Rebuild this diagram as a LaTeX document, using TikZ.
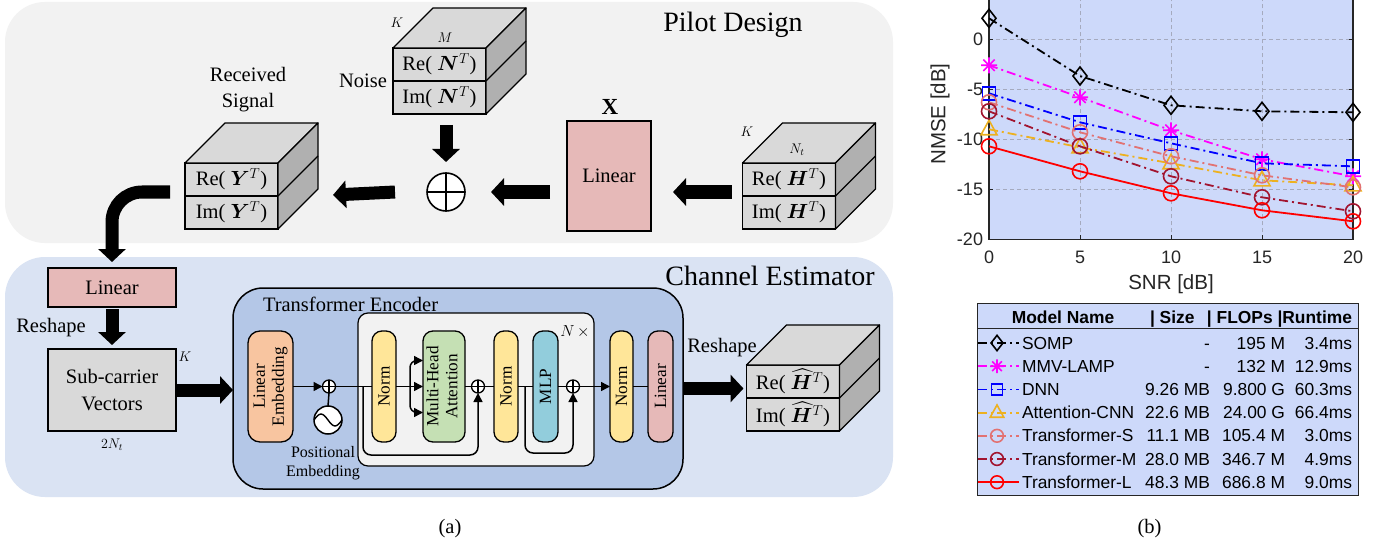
\RequirePackage{fix-cm}
\documentclass[tikz,border=0pt]{standalone}
\usepackage{amsmath}
\usepackage{bm}
\usepackage{fontspec}
\setmainfont{Liberation Serif}
\newfontfamily\arialf{Liberation Sans}
\usepackage{graphicx}
\usetikzlibrary{arrows.meta,calc,shapes.geometric}

\definecolor{panelgray}{HTML}{F2F2F2}
\definecolor{panelblue}{HTML}{DAE3F3}
\definecolor{tebg}{HTML}{B4C7E7}
\definecolor{linpink}{HTML}{E6B9B8}
\definecolor{cubefront}{HTML}{D9D9D9}
\definecolor{cubeside}{HTML}{B0B0B0}
\definecolor{embor}{HTML}{F8C5A0}
\definecolor{normy}{HTML}{FFE699}
\definecolor{mhag}{HTML}{C5E0B4}
\definecolor{mlpc}{HTML}{92CDDC}
\definecolor{plotbg}{RGB}{205,217,250}
\definecolor{gridc}{RGB}{165,170,190}
\definecolor{axc}{RGB}{38,38,38}
\definecolor{cmag}{RGB}{255,0,255}
\definecolor{cblue}{RGB}{0,0,255}
\definecolor{corange}{RGB}{237,177,32}
\definecolor{csalmon}{RGB}{226,114,114}
\definecolor{cdred}{RGB}{162,20,47}
\definecolor{cred}{RGB}{255,0,0}

\newcommand\fsN{\fontsize{20.5}{24}\selectfont}
\newcommand\fsT{\fontsize{28}{31}\selectfont}
\newcommand\fsS{\fontsize{16}{19}\selectfont}
\newcommand\fsX{\fontsize{14}{16}\selectfont}
\newcommand\fsB{\fontsize{17.2}{19}\selectfont}
\newcommand\fsTick{\arialf\fontsize{18}{20}\selectfont}
\newcommand\fsAx{\arialf\fontsize{20.5}{23}\selectfont}
\newcommand\fsLeg{\arialf\fontsize{17.4}{20}\selectfont}

\newcommand\cubefaces[2]{%
  \draw[topface] (#1.north west) -- ++(40,-40) -- ++(93,0) -- (#1.north east) -- cycle;
  \draw[sideface] (#1.north east) -- ++(40,-40) -- ++(0,66) -- (#2.south east) -- cycle;
  \draw[line width=1.3pt] (#1.south east) -- ++(40,-40);
}

\tikzset{
  every node/.style={inner sep=0pt, outer sep=0pt},
  lbl/.style={font=\fsN},
  ttl/.style={font=\fsT},
  dimlbl/.style={font=\fsX},
  face/.style={draw, line width=1.3pt, fill=cubefront, minimum width=93pt, minimum height=33pt, font=\fsN},
  topface/.style={draw, line width=1.3pt, fill=cubefront, line join=round},
  sideface/.style={draw, line width=1.3pt, fill=cubeside, line join=round},
  fat/.style={line width=13pt, -{Triangle[length=13pt,width=27pt]}},
  bigsum/.style={circle, draw, line width=1.6pt, fill=white, minimum size=38pt,
    path picture={\draw[line width=1.6pt] (path picture bounding box.north) -- (path picture bounding box.south)
      (path picture bounding box.west) -- (path picture bounding box.east);}},
  sumnode/.style={circle, draw, line width=1.3pt, fill=white, minimum size=13pt,
    path picture={\draw[line width=1.3pt] (path picture bounding box.north) -- (path picture bounding box.south)
      (path picture bounding box.west) -- (path picture bounding box.east);}},
  blk/.style={draw, line width=1.3pt, rounded corners=10pt, minimum height=111pt, font=\fsB},
  flow/.style={line width=1.5pt},
  flowarr/.style={line width=1.5pt, -{Triangle[length=9pt,width=9pt]}},
  gridline/.style={gridc, line width=0.8pt, dash pattern=on 4pt off 3pt},
  dashdotm/.style={dash pattern=on 9pt off 4pt on 2pt off 4pt},
  sblack/.style={black, line width=1.8pt, dashdotm},
  smag/.style={cmag, line width=1.8pt, dashdotm},
  sblue/.style={cblue, line width=1.8pt, dashdotm},
  sorange/.style={corange, line width=1.8pt, dashdotm},
  ssalmon/.style={csalmon, line width=1.8pt, dashdotm},
  sdred/.style={cdred, line width=1.8pt, dashdotm},
  sred/.style={cred, line width=1.8pt, solid},
  mdia/.pic={\draw[solid, line width=1.6pt] (0,9pt) -- (7pt,0) -- (0,-9pt) -- (-7pt,0) -- cycle;},
  mcirc/.pic={\draw[solid, line width=1.6pt] (0,0) circle[radius=7.5pt];},
  msq/.pic={\draw[solid, line width=1.6pt] (-6.5pt,-6.5pt) rectangle (6.5pt,6.5pt);},
  mtri/.pic={\draw[solid, line width=1.6pt] (0,9pt) -- (8pt,-5.5pt) -- (-8pt,-5.5pt) -- cycle;},
  mast/.pic={\draw[solid, line width=1.6pt] (-8pt,0) -- (8pt,0) (0,-8pt) -- (0,8pt)
     (-5.7pt,-5.7pt) -- (5.7pt,5.7pt) (-5.7pt,5.7pt) -- (5.7pt,-5.7pt);},
}

\begin{document}
\begin{tikzpicture}[x=1pt, y=-1pt]
\useasboundingbox (0,0) rectangle (1388,540);
\clip (0,0) rectangle (1388,540);
\fill[white] (0,0) rectangle (1388,540);

% ---------- panels ----------
\fill[panelgray, rounded corners=40pt] (5,2) rectangle (893,243);
\fill[panelblue, rounded corners=40pt] (5,257) rectangle (893,497);
\node[ttl, anchor=base] (pilot) at (733,32) {Pilot Design};
\node[ttl, anchor=base] (chest) at (770,285) {Channel Estimator};

% ---------- pilot design ----------
\node[face] (nre) at (439.5,64.5) {Re( $\bm{N}^T$)};
\node[face] (nim) at (439.5,97.5) {Im( $\bm{N}^T$)};
\cubefaces{nre}{nim}
\node[dimlbl] (nk) at (397,23) {$K$};
\node[dimlbl] (nm) at (445,38) {$M$};
\node[lbl, anchor=east] (noise) at ([xshift=-6pt]nre.south west) {Noise};

\node[face] (yre) at (231.5,179.5) {Re( $\bm{Y}^T$)};
\node[face] (yim) at (231.5,212.5) {Im( $\bm{Y}^T$)};
\cubefaces{yre}{yim}
\node[lbl, align=center, font=\fontsize{20.5}{26}\selectfont] (recv) at (248,90) {Received\\Signal};

\node[face] (hre) at (789,179.5) {Re( $\bm{H}^T$)};
\node[face] (him) at (789,212.5) {Im( $\bm{H}^T$)};
\cubefaces{hre}{him}
\node[dimlbl] (hk) at (747,132) {$K$};
\node[dimlbl] (hn) at (797,150) {$N_t$};

\node[draw, line width=1.3pt, fill=linpink, minimum width=84pt, minimum height=110pt, font=\fsN] (lin1) at (609,176) {Linear};
\node[font=\bfseries\fontsize{23}{25}\selectfont] (xlab) at (610,107) {X};
\node[bigsum] (plus) at (446,192) {};

\draw[fat] ($(hre.south west)+(-11,-4)$) -- ($(lin1.east |- plus.center)+(22,0)$);
\draw[fat] ($(lin1.west |- plus.center)+(-17,0)$) -- ($(plus.east)+(26,0)$);
\draw[fat] ($(plus.west)+(-32,0)$) -- ($(yre.south east)+(55,-1)$);
\draw[fat] ($(nim.south)+(6.5,11)$) -- ($(plus.north)+(0,-11)$);

% ---------- channel estimator ----------
\node[draw, line width=1.3pt, fill=linpink, minimum width=128pt, minimum height=39pt, font=\fsN] (lin2) at (112,287.5) {Linear};
\node[draw, line width=1.3pt, fill=cubefront, minimum width=128pt, minimum height=82pt, align=center, font=\fontsize{20.5}{27}\selectfont] (sub) at (112,390) {Sub-carrier\\Vectors};
\node[lbl] (resh1) at (51,328) {Reshape};
\node[dimlbl] (sk) at (185,357) {$K$};
\node[dimlbl] (s2n) at (112,445) {$2N_t$};

\draw[fat, rounded corners=30pt] ($(yre.south west)+(-15,-4)$) -| ($(lin2.north)+(0,-6)$);
\draw[fat] ($(lin2.south)+(0,2)$) -- ($(sub.north)+(0,-4)$);

% transformer encoder
\node[draw, line width=1.5pt, fill=tebg, rounded corners=30pt, minimum width=450pt, minimum height=201pt] (te) at (458,388.5) {};
\node[draw, line width=1.2pt, fill=panelgray, rounded corners=10pt, minimum width=236pt, minimum height=153pt] (inner) at (476,389.5) {};
\node[lbl, anchor=west] (tetitle) at (263,304) {Transformer Encoder};
\node[font=\fsS] (ntimes) at (575,332) {$N\,\times$};

\node[blk, fill=embor, minimum width=45pt, rounded corners=12pt] (le) at (270.5,386.5)
  {\rotatebox{90}{\begin{tabular}{@{}c@{}}Linear\\Embedding\end{tabular}}};
\node[blk, fill=normy, minimum width=24pt] (n1) at (384,386.5) {\rotatebox{90}{Norm}};
\node[blk, fill=mhag, minimum width=42pt] (mha) at (444,386.5)
  {\rotatebox{90}{\begin{tabular}{@{}c@{}}Multi-Head\\Attention\end{tabular}}};
\node[blk, fill=normy, minimum width=24pt] (n2) at (506,386.5) {\rotatebox{90}{Norm}};
\node[blk, fill=mlpc, minimum width=25pt] (mlp) at (545.5,386.5) {\rotatebox{90}{MLP}};
\node[blk, fill=normy, minimum width=23pt] (n3) at (621.5,386.5) {\rotatebox{90}{Norm}};
\node[blk, fill=linpink, minimum width=25pt] (lin3) at (660.5,386.5) {\rotatebox{90}{Linear}};

\node[sumnode] (p1) at (329,386.5) {};
\node[sumnode] (p2) at (478,386.5) {};
\node[sumnode] (p3) at (573,386.5) {};
\node[circle, draw, line width=1.5pt, fill=white, minimum size=28pt] (pe) at (328,420) {};
\draw[line width=1.4pt] ($(pe.center)+(-14,0)$) sin ($(pe.center)+(-7,-6)$) cos (pe.center) sin ($(pe.center)+(7,6)$) cos ($(pe.center)+(14,0)$);
\node[font=\fsS, align=center] (petxt) at (323,463.5) {Positional\\Embedding};

\draw[flowarr] (le.east) -- (p1.west);
\draw[flow] (pe.north) -- (p1.south);
\draw[flow] (p1.east) -- (n1.west);
\draw[flowarr] (n1.east) -- (mha.west);
\draw[flowarr, rounded corners=7pt] ($(n1.east)+(14,0)$) |- ($(mha.west)+(0,-26)$);
\draw[flowarr, rounded corners=7pt] ($(n1.east)+(14,0)$) |- ($(mha.west)+(0,26)$);
\draw[flowarr, rounded corners=8pt] ($(n1.west)+(-9,0)$) -- ++(0,68.5) -| (p2.south);
\draw[flow] (mha.east) -- (p2.west);
\draw[flow] (p2.east) -- (n2.west);
\draw[flow] (n2.east) -- (mlp.west);
\draw[flowarr, rounded corners=8pt] ($(n2.east)+(7,0)$) -- ++(0,66.5) -| (p3.south);
\draw[flow] (mlp.east) -- (p3.west);
\draw[flowarr] (p3.east) -- (n3.west);
\draw[flow] (n3.east) -- (lin3.west);

\draw[fat] ($(sub.east)+(1,0)$) -- (sub.east -| te.west);

% output cube
\node[face] (hhre) at (793,381.5) {Re( $\widehat{\bm{H}}^T$)};
\node[face] (hhim) at (793,414.5) {Im( $\widehat{\bm{H}}^T$)};
\cubefaces{hhre}{hhim}
\node[lbl] (resh2) at (722,348) {Reshape};
\draw[fat] (te.east) -- ($(te.east -| hhre.west)+(-3,0)$);

% captions
\node[lbl, anchor=base] (capa) at (450,533) {(a)};
\node[lbl, anchor=base] (capb) at (1149.5,533) {(b)};

% ---------- plot ----------
\begin{scope}[shift={(989,39.3)}, x=18.2pt, y=10pt]
  \fill[plotbg] (0,-20) rectangle (20,6);
  \foreach \xx in {5,10,15} \draw[gridline] (\xx,-20) -- (\xx,6);
  \foreach \yy in {-15,-10,-5,0,5} \draw[gridline] (0,\yy) -- (20,\yy);
  \draw[axc, line width=1.1pt] (0,6) -- (0,-20) -- (20,-20) -- (20,6);
  \foreach \xx in {0,5,10,15,20} {
    \draw[axc, line width=1pt] (\xx,-20) -- ++(0,4pt);
    \node[font=\fsTick, text=axc, anchor=north] at ($(\xx,-20)+(0,-12pt)$) {\xx};
  }
  \foreach \yy in {0,-5,-10,-15,-20} {
    \draw[axc, line width=1pt] (0,\yy) -- ++(4pt,0);
    \draw[axc, line width=1pt] (20,\yy) -- ++(-4pt,0);
    \node[font=\fsTick, text=axc, anchor=east] at ($(0,\yy)+(-6pt,0)$) {\yy};
  }
  \node[font=\fsAx, text=axc] (xlabel) at (10,-24.5) {SNR [dB]};
  \node[font=\fsAx, text=axc, rotate=90] (ylabel) at (-2.69,-7.47) {NMSE [dB]};

  \draw[sblack] plot coordinates {(0,2.1) (5,-3.67) (10,-6.6) (15,-7.2) (20,-7.3)};
  \foreach \p in {(0,2.1),(5,-3.67),(10,-6.6),(15,-7.2),(20,-7.3)} \path \p pic[black]{mdia};
  \draw[smag] plot coordinates {(0,-2.6) (5,-5.8) (10,-9.1) (15,-12.0) (20,-13.7)};
  \foreach \p in {(0,-2.6),(5,-5.8),(10,-9.1),(15,-12.0),(20,-13.7)} \path \p pic[cmag]{mast};
  \draw[sblue] plot coordinates {(0,-5.4) (5,-8.3) (10,-10.4) (15,-12.4) (20,-12.7)};
  \foreach \p in {(0,-5.4),(5,-8.3),(10,-10.4),(15,-12.4),(20,-12.7)} \path \p pic[cblue]{msq};
  \draw[sorange] plot coordinates {(0,-9.0) (5,-10.8) (10,-12.4) (15,-14.1) (20,-14.6)};
  \foreach \p in {(0,-9.0),(5,-10.8),(10,-12.4),(15,-14.1),(20,-14.6)} \path \p pic[corange]{mtri};
  \draw[ssalmon] plot coordinates {(0,-6.3) (5,-9.3) (10,-11.7) (15,-13.6) (20,-14.8)};
  \foreach \p in {(0,-6.3),(5,-9.3),(10,-11.7),(15,-13.6),(20,-14.8)} \path \p pic[csalmon]{mcirc};
  \draw[sdred] plot coordinates {(0,-7.2) (5,-10.7) (10,-13.7) (15,-15.8) (20,-17.2)};
  \foreach \p in {(0,-7.2),(5,-10.7),(10,-13.7),(15,-15.8),(20,-17.2)} \path \p pic[cdred]{mcirc};
  \draw[sred] plot coordinates {(0,-10.7) (5,-13.2) (10,-15.4) (15,-17.1) (20,-18.2)};
  \foreach \p in {(0,-10.7),(5,-13.2),(10,-15.4),(15,-17.1),(20,-18.2)} \path \p pic[cred]{mcirc};
\end{scope}

% ---------- legend ----------
\node[draw=axc, line width=1pt, fill=plotbg, minimum width=381pt, minimum height=192pt] (leg) at (1167.5,399) {};
\draw[axc, line width=1pt] ($(leg.north west)+(0,25)$) -- ($(leg.north east)+(0,25)$);
\node[font=\fsLeg\bfseries, anchor=base] (hname) at (1063,323) {Model Name};
\node[font=\fsLeg\bfseries, anchor=base west] (hsize) at (1150,323) {| Size};
\node[font=\fsLeg\bfseries, anchor=base east] (hrest) at (1352,323) {| FLOPs |Runtime};
\foreach \i/\nm/\sz/\fl/\rt/\st/\cc/\mk in {
  0/SOMP/-/195 M/3.4ms/sblack/black/mdia,
  1/MMV-LAMP/-/132 M/12.9ms/smag/cmag/mast,
  2/DNN/9.26 MB/9.800 G/60.3ms/sblue/cblue/msq,
  3/Attention-CNN/22.6 MB/24.00 G/66.4ms/sorange/corange/mtri,
  4/Transformer-S/11.1 MB/105.4 M/3.0ms/ssalmon/csalmon/mcirc,
  5/Transformer-M/28.0 MB/346.7 M/4.9ms/sdred/cdred/mcirc,
  6/Transformer-L/48.3 MB/686.8 M/9.0ms/sred/cred/mcirc} {
  \pgfmathsetmacro\ry{343+23.2*\i}
  \draw[\st] (978,\ry) -- (1019,\ry);
  \path (997,\ry) pic[\cc, scale=0.85]{\mk};
  \node[font=\fsLeg, anchor=base west] at (1022,\ry+6) {\nm};
  \node[font=\fsLeg, anchor=base east] at (1210,\ry+6) {\sz};
  \node[font=\fsLeg, anchor=base east] at (1285,\ry+6) {\fl};
  \node[font=\fsLeg, anchor=base east] at (1352,\ry+6) {\rt};
}
\end{tikzpicture}
\end{document}
